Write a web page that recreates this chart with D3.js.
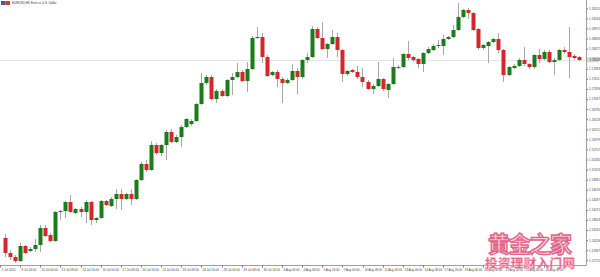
<!DOCTYPE html>
<html>
<head>
<meta charset="utf-8">
<script src="https://cdn.jsdelivr.net/npm/d3@7"></script>
<style>
  body { margin: 0; background: #fff; }
  svg { display: block; }
  text { font-family: "Liberation Sans", Arial, sans-serif; }
</style>
</head>
<body>
<script>
// EURUSD H8 candles
var open = [1.13314,1.12909,1.12801,1.12693,1.13098,1.12963,1.13017,1.13125,1.13584,1.13395,
  1.13233,1.14016,1.14043,1.14286,1.13989,1.14097,1.14016,1.14286,1.13800,1.13854,
  1.14313,1.14178,1.14367,1.14502,1.14367,1.14502,1.14367,1.14880,1.15312,1.15150,
  1.15825,1.15609,1.15825,1.16176,1.15906,1.16041,1.16311,1.16392,1.16473,1.16932,
  1.17499,1.17661,1.17067,1.17283,1.17148,1.17580,1.17661,1.17796,1.17553,1.17877,
  1.18714,1.18741,1.18201,1.17715,1.17796,1.17607,1.17499,1.17580,1.17823,1.17661,
  1.18120,1.18201,1.18957,1.18714,1.18417,1.18552,1.18741,1.18390,1.17742,1.17850,
  1.17796,1.17661,1.17526,1.17337,1.17418,1.17607,1.17310,1.17472,1.17931,1.17931,
  1.18282,1.18201,1.18147,1.18012,1.18309,1.18390,1.18498,1.18498,1.18687,1.18741,
  1.18930,1.19281,1.19470,1.19389,1.18957,1.18444,1.18498,1.18606,1.18687,1.18390,
  1.17715,1.17904,1.17958,1.18120,1.18012,1.17931,1.18255,1.18147,1.18336,1.18066,
  1.18120,1.18390,1.18336,1.18228,1.18201];
var high = [1.13422,1.12990,1.12855,1.13179,1.13125,1.13071,1.13287,1.13665,1.13665,1.13449,
  1.14043,1.14070,1.14313,1.14475,1.14124,1.14151,1.14340,1.14313,1.13881,1.14340,
  1.14340,1.14421,1.14637,1.14637,1.14529,1.14637,1.14907,1.15366,1.15420,1.15933,
  1.15879,1.15852,1.16230,1.16257,1.16095,1.16365,1.16554,1.16527,1.16959,1.17769,
  1.17715,1.17715,1.17337,1.17337,1.17607,1.17769,1.18039,1.17850,1.18066,1.18768,
  1.19011,1.18849,1.18255,1.17823,1.17850,1.17661,1.17634,1.18012,1.17904,1.18147,
  1.18309,1.19038,1.19011,1.19146,1.18579,1.18930,1.18849,1.18417,1.17850,1.17877,
  1.17958,1.17904,1.17580,1.17472,1.18066,1.17634,1.17499,1.18174,1.17985,1.18309,
  1.18633,1.18228,1.18174,1.18336,1.18471,1.18552,1.18660,1.18795,1.18768,1.19065,
  1.19659,1.19497,1.19524,1.19416,1.18984,1.18552,1.18633,1.18714,1.18849,1.18417,
  1.17958,1.18012,1.18174,1.18471,1.18039,1.18282,1.18417,1.18390,1.18390,1.18174,
  1.18417,1.18471,1.19011,1.18282,1.18228];
var low = [1.12801,1.12720,1.12639,1.12666,1.12882,1.12936,1.12936,1.12936,1.13341,1.13206,
  1.13206,1.13800,1.13854,1.13989,1.13962,1.13881,1.13719,1.13665,1.13719,1.13827,
  1.14178,1.14151,1.14097,1.14070,1.14340,1.14205,1.14340,1.14853,1.15096,1.15123,
  1.15555,1.15528,1.15420,1.15879,1.15879,1.15771,1.16284,1.16338,1.16446,1.16905,
  1.17445,1.17040,1.16959,1.17121,1.17121,1.17175,1.17634,1.17526,1.17256,1.17850,
  1.18687,1.18039,1.17661,1.17688,1.17391,1.16959,1.17472,1.17553,1.17202,1.17607,
  1.18039,1.18174,1.18687,1.18390,1.18174,1.18525,1.18201,1.17526,1.17688,1.17769,
  1.17607,1.17391,1.17310,1.17202,1.17391,1.17283,1.17094,1.17445,1.17877,1.17904,
  1.18120,1.18066,1.17904,1.17796,1.18282,1.18363,1.18444,1.18255,1.18660,1.18714,
  1.18903,1.19254,1.19227,1.18903,1.18390,1.18390,1.18039,1.18579,1.18309,1.17526,
  1.17688,1.17877,1.17931,1.17958,1.17877,1.17877,1.18039,1.18120,1.18039,1.17715,
  1.18093,1.18282,1.17634,1.18120,1.18093];
var close = [1.12909,1.12801,1.12693,1.13098,1.12909,1.13017,1.13125,1.13584,1.13368,1.13233,
  1.14016,1.14043,1.14286,1.14016,1.14097,1.14016,1.14286,1.13800,1.13854,1.14313,
  1.14205,1.14367,1.14502,1.14367,1.14502,1.14367,1.14880,1.15312,1.15150,1.15825,
  1.15609,1.15825,1.16176,1.15906,1.16041,1.16311,1.16527,1.16473,1.16932,1.17499,
  1.17661,1.17067,1.17283,1.17148,1.17580,1.17661,1.17796,1.17553,1.17877,1.18714,
  1.18741,1.18201,1.17688,1.17796,1.17607,1.17499,1.17580,1.17823,1.17661,1.18120,
  1.18201,1.18957,1.18714,1.18417,1.18552,1.18741,1.18390,1.17742,1.17823,1.17796,
  1.17661,1.17526,1.17337,1.17418,1.17607,1.17337,1.17472,1.17931,1.17925,1.18282,
  1.18174,1.18120,1.18012,1.18309,1.18417,1.18498,1.18525,1.18687,1.18741,1.18930,
  1.19281,1.19470,1.19389,1.18930,1.18444,1.18525,1.18606,1.18687,1.18390,1.17715,
  1.17931,1.17958,1.18120,1.18012,1.17931,1.18255,1.18147,1.18336,1.18066,1.18120,
  1.18390,1.18336,1.18201,1.18174,1.18120];

// price scale labels (right side)
var priceTicks = [1.19515,1.19243,1.18971,1.18699,1.18427,1.18155,1.17883,1.17611,1.17339,1.17067,
  1.16795,1.16523,1.16251,1.15979,1.15707,1.15435,1.15163,1.14891,1.14619,1.14347,
  1.14075,1.13803,1.13531,1.13259,1.12987,1.12715];

// time scale labels, one every 4 bars
var timeTickBars = d3.range(0, 112, 4);
var timeTickLabels = ["7 Jul 2020","8 Jul 16:00","10 Jul 00:00","13 Jul 08:00","14 Jul 16:00",
  "16 Jul 00:00","17 Jul 08:00","20 Jul 16:00","22 Jul 00:00","23 Jul 08:00","24 Jul 16:00",
  "28 Jul 00:00","29 Jul 08:00","30 Jul 16:00","3 Aug 00:00","4 Aug 08:00","5 Aug 16:00",
  "7 Aug 00:00","10 Aug 08:00","11 Aug 16:00","13 Aug 00:00","14 Aug 08:00","17 Aug 16:00",
  "19 Aug 00:00","20 Aug 08:00","21 Aug 16:00","25 Aug 00:00","26 Aug 08:00"];

var title = "EURUSD,H8:  Euro vs U.S. Dollar";

var width = 600, height = 277;
var plotW = 586, plotH = 265;
var fs = "3px";

var svg = d3.select("body").append("svg")
    .attr("width", width)
    .attr("height", height);

var x = d3.scaleLinear().domain([0, open.length - 1]).range([5, 579]);
var y = d3.scaleLinear().domain([1.12612, 1.19740]).range([264, 0]);

var bars = d3.range(open.length).map(function(i) {
    return {i: i, o: open[i], h: high[i], l: low[i], c: close[i]};
});

// current price line
var last = close[close.length - 1];
svg.append("line")
    .attr("x1", 0).attr("x2", plotW)
    .attr("y1", Math.round(y(last)) + 0.5).attr("y2", Math.round(y(last)) + 0.5)
    .style("stroke", "#e4e4e4")
    .style("stroke-width", 1);

// wicks
svg.selectAll("line.wick")
    .data(bars)
    .enter()
    .append("line")
    .attr("class", "wick")
    .attr("x1", function(d){ return Math.round(x(d.i)) + 0.5; })
    .attr("x2", function(d){ return Math.round(x(d.i)) + 0.5; })
    .attr("y1", function(d){ return y(d.h); })
    .attr("y2", function(d){ return y(d.l); })
    .style("stroke", "#a8a8a8")
    .style("stroke-width", 1);

// bodies
svg.selectAll("rect.body")
    .data(bars)
    .enter()
    .append("rect")
    .attr("class", "body")
    .attr("x", function(d){ return Math.round(x(d.i)) - 1.5; })
    .attr("width", 4)
    .attr("y", function(d){ return y(Math.max(d.o, d.c)); })
    .attr("height", function(d){ return Math.max(1, Math.abs(y(d.o) - y(d.c))); })
    .style("fill", function(d){ return d.c >= d.o ? "#1a7c1a" : "#d7262b"; });

// right price axis
var yAxis = d3.axisRight(y)
    .tickValues(priceTicks)
    .tickSize(1.5)
    .tickPadding(1)
    .tickFormat(d3.format(".5f"));
var ya = svg.append("g")
    .attr("transform", "translate(" + (plotW + 0.5) + ",0)")
    .call(yAxis);
ya.select(".domain").attr("d", "M0,0V" + plotH).style("stroke", "#a0a0a0");
ya.selectAll(".tick line").style("stroke", "#777");
ya.selectAll(".tick text")
    .style("font-size", fs)
    .style("fill", "#444");

// current price label
var lp = svg.append("g").attr("transform", "translate(" + (plotW + 1) + "," + y(last) + ")");
lp.append("rect").attr("x", 0).attr("y", -2.5).attr("width", 12).attr("height", 5).style("fill", "#d9d9d9");
lp.append("text").attr("x", 2.5).attr("y", 1.1).text(d3.format(".5f")(last))
    .style("font-size", fs).style("fill", "#222");

// bottom time axis
var xa = svg.append("g")
    .attr("transform", "translate(0," + (plotH + 0.5) + ")");
xa.append("line").attr("x1", 0).attr("x2", plotW + 0.5).attr("y1", 0).attr("y2", 0)
    .style("stroke", "#a0a0a0");
var tk = xa.selectAll("g.tk")
    .data(timeTickBars)
    .enter()
    .append("g")
    .attr("class", "tk")
    .attr("transform", function(d){ return "translate(" + (Math.round(x(d)) - 4.5) + ",0)"; });
tk.append("line").attr("y1", 0).attr("y2", 2).style("stroke", "#777");
tk.append("text")
    .attr("x", 1)
    .attr("y", 5.5)
    .text(function(d, i){ return timeTickLabels[i]; })
    .style("font-size", fs)
    .style("fill", "#444");

// title with little symbol icon
svg.append("rect").attr("x", 1).attr("y", 1).attr("width", 4.5).attr("height", 4).style("fill", "#3b5bb5");
svg.append("rect").attr("x", 5.5).attr("y", 1).attr("width", 4.5).attr("height", 4).style("fill", "#d33");
svg.append("text").attr("x", 12).attr("y", 4).text(title)
    .style("font-size", fs).style("fill", "#333");

// watermark
svg.append("text")
    .attr("x", 530).attr("y", 252)
    .attr("text-anchor", "middle")
    .attr("textLength", 84)
    .text("黄金之家")
    .style("font-family", "Noto Sans CJK SC")
    .style("font-size", "22px")
    .style("font-weight", "bold")
    .style("fill", "#f9d0dc")
    .style("stroke", "#e2628a")
    .style("stroke-width", 1.3);
svg.append("text")
    .attr("x", 530).attr("y", 267.5)
    .attr("text-anchor", "middle")
    .attr("textLength", 90)
    .text("投资理财入门网")
    .style("font-family", "Noto Sans CJK SC")
    .style("font-size", "12.5px")
    .style("font-weight", "bold")
    .style("fill", "#e4486e")
    .style("stroke", "#f6b3c4")
    .style("stroke-width", 0.6);
</script>
</body>
</html>
